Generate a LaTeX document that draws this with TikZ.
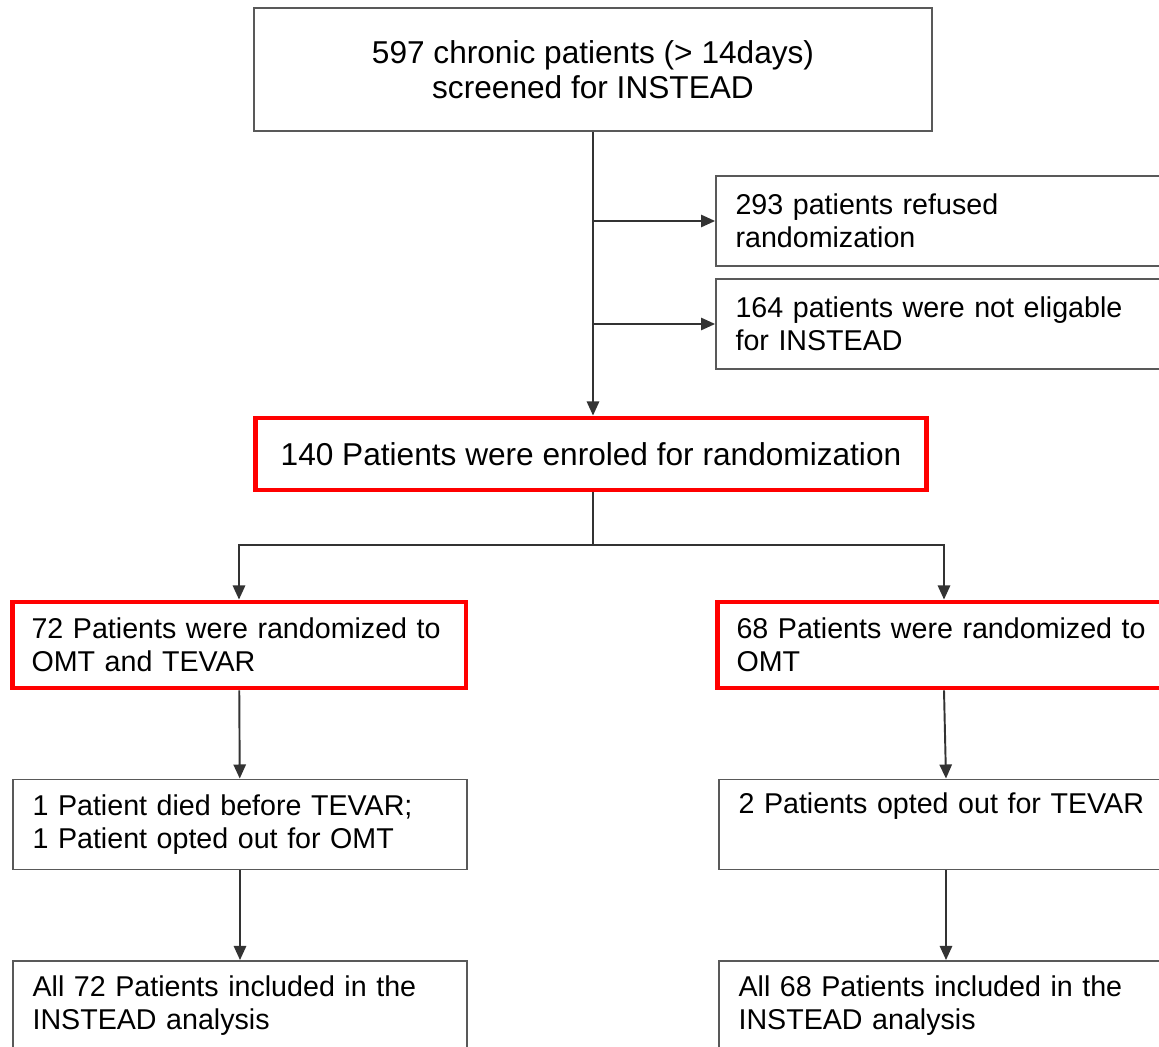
\documentclass[tikz,border=0pt]{standalone}
\usepackage{fontspec}
\setmainfont{Liberation Sans}
\usetikzlibrary{arrows.meta}

\begin{document}
\begin{tikzpicture}[x=0.02cm,y=-0.02cm,
  box/.style={draw=black!65,line width=1.1pt,rectangle,
    font=\fontsize{18}{20}\selectfont},
  sidebox/.style={box,inner xsep=0.39cm,text width=8.3cm,align=left,
    font=\fontsize{16.3}{18.8}\selectfont,minimum height=1.8cm},
  redbox/.style={draw=red,line width=2.8pt},
  arr/.style={draw=black!80,line width=1.1pt,-{Triangle[length=8pt,width=7pt]}}]
\clip (0,0) rectangle (1159,1047);

% screening
\node[box,align=center,minimum width=13.56cm,minimum height=2.46cm] (screen) at (593,69.5)
  {597 chronic patients (> 14days)\\screened for INSTEAD};
\node[sidebox] (refused) at (943,221) {293 patients refused\\randomization};
\node[sidebox] (noteligible) at (943,324) {164 patients were not eligable\\for INSTEAD};
\node[box,redbox,minimum width=13.42cm,minimum height=1.44cm] (enrol) at (591,454)
  {140 Patients were enroled for randomization};

% randomized groups
\node[sidebox,redbox,minimum height=1.72cm] (tevar) at (239,645) {72 Patients were randomized to\\OMT and TEVAR};
\node[sidebox,redbox,minimum height=1.72cm] (omt) at (944,645) {68 Patients were randomized to\\OMT};
\node[sidebox] (died) at (240,824.5) {1 Patient died before TEVAR;\\1 Patient opted out for OMT};
\node[sidebox] (optout) at (946,824.5) {2 Patients opted out for TEVAR\\\strut};
\node[sidebox] (allL) at (240,1006) {All 72 Patients included in the\\INSTEAD analysis};
\node[sidebox] (allR) at (946,1006) {All 68 Patients included in the\\INSTEAD analysis};

\coordinate (split) at (593,545);

\draw[arr] (screen.south) -- (screen.south |- enrol.north);
\draw[arr] (screen.south |- refused.west) -- (refused.west);
\draw[arr] (screen.south |- noteligible.west) -- (noteligible.west);
\draw[draw=black!80,line width=1.1pt] (enrol.south -| split) -- (split);
\draw[arr] (split) -| (tevar.north);
\draw[arr] (split) -| (omt.north);
\draw[arr] (tevar) -- (died);
\draw[arr] (omt.south) -- (optout.north);
\draw[arr] (died) -- (allL);
\draw[arr] (optout) -- (allR);
\end{tikzpicture}
\end{document}
